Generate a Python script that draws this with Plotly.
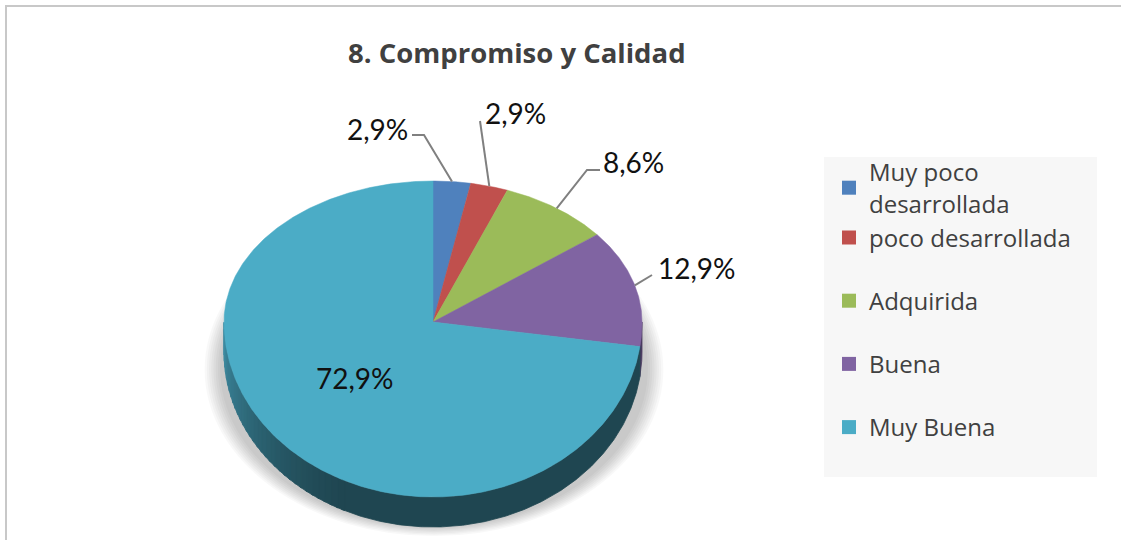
import math
import plotly.graph_objects as go

# ---------------- data ----------------
title_text = "8. Compromiso y Calidad"
categories = ["Muy poco desarrollada", "poco desarrollada", "Adquirida", "Buena", "Muy Buena"]
legend_names = ["Muy poco<br>desarrollada", "poco desarrollada", "Adquirida", "Buena", "Muy Buena"]
values = [2.9, 2.9, 8.6, 12.9, 72.9]

# ---------------- style / layout ----------------
colors = ["#4f81bd", "#c0504d", "#9bbb59", "#8064a2", "#4bacc6"]
side_dark = ["#2a4468", "#6b2a28", "#566b30", "#4a3a60", "#1f4651"]
W, H = 1121, 540
CX, CY = 433, 322           # pie vertex (pixels of the picture)
RX, RY_UP, RY_LO = 209, 141, 175
DEPTH = 30

# label layout: text position, anchor, leader elbow points
label_layout = [
    dict(x=410, y=129, xanchor="right", path=[(412, 135), (424, 135)]),
    dict(x=483, y=113, xanchor="left", path=[(480, 121)]),
    dict(x=601, y=162, xanchor="left", path=[(600, 170), (587, 170)]),
    dict(x=656, y=268, xanchor="left", path=[(652, 275)]),
    dict(x=355, y=378, xanchor="center", path=None),
]


def edge(theta_deg):
    t = math.radians(theta_deg)
    c = math.cos(t)
    ry = RY_UP if c > 0 else RY_LO
    return CX + RX * math.sin(t), CY - ry * c


def arc(a0, a1, step=1.0):
    n = max(2, int(abs(a1 - a0) / step) + 1)
    return [edge(a0 + (a1 - a0) * i / (n - 1)) for i in range(n)]


def mix(c1, c2, f):
    a = [int(c1[i:i + 2], 16) for i in (1, 3, 5)]
    b = [int(c2[i:i + 2], 16) for i in (1, 3, 5)]
    f = max(0.0, min(1.0, f))
    return "#%02x%02x%02x" % tuple(round(a[k] + (b[k] - a[k]) * f) for k in range(3))


def px(x):
    return x / W


def py(y):
    return 1 - y / H


total = sum(values)
bounds = [0.0]
for v in values:
    bounds.append(bounds[-1] + v / total * 360.0)

fig = go.Figure()


def side_poly(a, b, col):
    top = arc(a, b, 0.5)
    bot = [(x, y + DEPTH) for x, y in reversed(top)]
    pts = top + bot + [top[0]]
    fig.add_trace(go.Scatter(
        x=[p[0] for p in pts], y=[p[1] for p in pts], fill="toself",
        fillcolor=col, mode="lines", line=dict(width=0.8, color=col),
        hoverinfo="skip", showlegend=False))


# ---- side wall (visible lower half: 90..270 deg) ----
GRAD_START = 205.0
for i in range(len(values)):
    a0, a1 = max(bounds[i], 90.0), min(bounds[i + 1], 270.0)
    if a1 <= a0:
        continue
    if i == 4:
        side_poly(a0, GRAD_START + 1, side_dark[i])
        a = GRAD_START
        while a < a1 - 1e-9:
            b = min(a + 2.0, a1)
            f = ((a + b) / 2 - GRAD_START) / (a1 - GRAD_START)
            side_poly(a, min(b + 0.6, a1), mix(side_dark[i], "#3f8da3", f ** 1.3))
            a = b
    else:
        side_poly(a0, a1, side_dark[i])

# ---- top face slices ----
for i, (cat, v) in enumerate(zip(categories, values)):
    pts = [(CX, CY)] + arc(bounds[i], bounds[i + 1], 0.5) + [(CX, CY)]
    fig.add_trace(go.Scatter(
        x=[p[0] for p in pts], y=[p[1] for p in pts], fill="toself",
        fillcolor=colors[i], mode="lines", line=dict(width=0.5, color=colors[i]),
        name=cat, hoverinfo="text", text=f"{cat}: {v}%", showlegend=False))

# ---- leader lines and labels ----
annotations = []
for i, v in enumerate(values):
    lay = label_layout[i]
    txt = f"{v:.1f}".replace(".", ",") + "%"
    if lay["path"]:
        mid = (bounds[i] + bounds[i + 1]) / 2
        ax, ay = edge(mid)
        pts = lay["path"] + [(ax, ay)]
        fig.add_trace(go.Scatter(
            x=[p[0] for p in pts], y=[p[1] for p in pts], mode="lines",
            line=dict(color="#808080", width=2), hoverinfo="skip", showlegend=False))
    annotations.append(dict(
        x=lay["x"], y=lay["y"], xref="x", yref="y", text=txt, showarrow=False,
        xanchor=lay["xanchor"], yanchor="middle",
        font=dict(family="Lato", size=28, color="#111111")))

# ---- legend entries ----
groups = ["g1", "g1", "g2", "g3", "g4"]
for i, nm in enumerate(legend_names):
    fig.add_trace(go.Scatter(
        x=[None], y=[None], mode="markers", name=nm, legendgroup=groups[i],
        marker=dict(symbol="square", size=14, color=colors[i]), hoverinfo="skip"))

annotations.append(dict(
    x=px(517), y=py(52), xref="paper", yref="paper", text=f"<b>{title_text}</b>",
    showarrow=False, xanchor="center", yanchor="middle",
    font=dict(family="Open Sans", size=27.5, color="#404040")))

# ---- decorations: shadow, legend box, border ----
shapes = []
for k in range(8):
    shapes.append(dict(type="circle", xref="x", yref="y", layer="below",
                       x0=220 - 2.2 * k, x1=648 + 2.2 * k, y0=210 - k, y1=527 + 1.3 * k,
                       fillcolor="rgba(0,0,0,0.028)", line=dict(width=0)))
shapes.append(dict(type="rect", xref="x", yref="y", layer="below",
                   x0=824, x1=1097, y0=157, y1=477, fillcolor="#f7f7f7", line=dict(width=0)))
shapes.append(dict(type="line", xref="x", yref="y", x0=5, x1=W, y0=6, y1=6,
                   line=dict(color="#c8c8c8", width=2)))
shapes.append(dict(type="line", xref="x", yref="y", x0=6, x1=6, y0=5, y1=H,
                   line=dict(color="#c8c8c8", width=2)))

fig.update_layout(
    width=W, height=H, margin=dict(l=0, r=0, t=0, b=0),
    paper_bgcolor="white", plot_bgcolor="white",
    xaxis=dict(range=[0, W], visible=False, fixedrange=True),
    yaxis=dict(range=[H, 0], visible=False, fixedrange=True),
    showlegend=True,
    legend=dict(x=px(829), y=py(150), xanchor="left", yanchor="top",
                bgcolor="rgba(0,0,0,0)", traceorder="grouped", tracegroupgap=29,
                font=dict(family="Open Sans", size=24, color="#404040"),
                itemclick=False, itemdoubleclick=False),
    annotations=annotations, shapes=shapes,
)

fig.write_html(
    "out.html",
    config={"displayModeBar": False},
    post_script="document.body.style.margin='0px';document.body.style.overflow='hidden';",
)
